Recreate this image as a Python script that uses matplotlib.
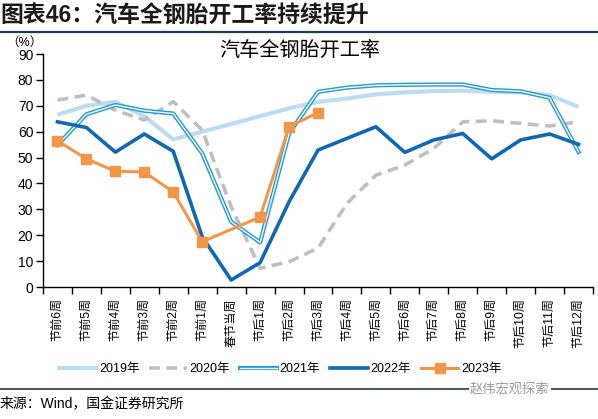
import numpy as np
import matplotlib
matplotlib.use('Agg')
import matplotlib.pyplot as plt
from matplotlib.lines import Line2D
from matplotlib.legend_handler import HandlerTuple

plt.rcParams['font.family'] = ['Liberation Sans', 'Noto Sans CJK SC', 'DejaVu Sans']

weeks = ['节前6周', '节前5周', '节前4周', '节前3周', '节前2周', '节前1周', '春节当周',
         '节后1周', '节后2周', '节后3周', '节后4周', '节后5周', '节后6周', '节后7周',
         '节后8周', '节后9周', '节后10周', '节后11周', '节后12周']

y2019 = [66.5, 70.0, 71.5, 66.0, 57.0, 60.0, 63.0, 66.0, 69.0, 71.5, 72.8, 74.4,
         75.2, 75.7, 75.8, 75.4, 75.2, 74.1, 69.6]
y2020 = [72.2, 74.1, 68.3, 64.5, 71.6, 60.6, 31.0, 7.2, 9.8, 15.0, 32.3, 43.2,
         47.1, 53.5, 63.8, 64.2, 63.2, 62.2, 63.8]
y2021 = [54.8, 66.7, 70.3, 68.1, 67.0, 51.6, 25.2, 17.2, 59.3, 75.4, 77.0, 77.9,
         78.1, 78.2, 78.2, 76.1, 75.6, 73.1, 52.2]
y2022 = [63.8, 61.6, 52.1, 59.1, 52.4, 19.4, 2.7, 9.4, 32.9, 52.9, 57.4, 61.9,
         52.0, 56.8, 59.3, 49.5, 56.8, 59.1, 55.1]
y2023 = [56.5, 49.5, 44.7, 44.4, 36.7, 17.5, np.nan, 27.0, 61.9, 67.4]

c2019 = '#BDDCF2'
c2020 = '#BFBFBF'
c2021 = '#1E9AD6'
c2022 = '#0F68B0'
c2023 = '#F4964A'

fig = plt.figure(figsize=(5.98, 4.19), dpi=100)
ax = fig.add_axes([43/598, 1 - 287/419, 550/598, 233/419])

x = np.arange(len(weeks))
ax.plot(x, y2019, color=c2019, lw=3, zorder=2, solid_capstyle='butt')
ax.plot(x, y2020, color=c2020, lw=2.6, dashes=(3, 1.8), zorder=3)
ax.plot(x, y2021, color=c2021, lw=3, zorder=4)
ax.plot(x, y2021, color='white', lw=1, zorder=4)
ax.plot(x, y2022, color=c2022, lw=2.6, zorder=5)
x23 = np.arange(len(y2023))
y23 = np.array(y2023)
m = ~np.isnan(y23)
ax.plot(x23[m], y23[m], color=c2023, lw=2.2, marker='s', ms=6.5, zorder=6)

ax.set_xlim(-0.5, len(weeks) - 0.5)
ax.set_ylim(0, 90)
ax.set_yticks(range(0, 91, 10))
ax.set_xticks(np.arange(-0.5, len(weeks), 1))
ax.set_xticklabels([])
ax.set_xticks(x, minor=True)
ax.set_xticklabels(weeks, minor=True, rotation=90, fontsize=8.7, va='top')
ax.tick_params(axis='x', which='minor', length=0, pad=8)
ax.tick_params(axis='x', which='major', length=5, direction='out', width=1)
ax.tick_params(axis='y', length=5, direction='out', width=1, labelsize=10, pad=2)
for s in ['top', 'right']:
    ax.spines[s].set_visible(False)
for s in ['left', 'bottom']:
    ax.spines[s].set_linewidth(1)

h19 = Line2D([], [], color=c2019, lw=3)
h20 = Line2D([], [], color=c2020, lw=2.6, dashes=(3, 1.8))
h21 = (Line2D([], [], color=c2021, lw=3), Line2D([], [], color='white', lw=1))
h22 = Line2D([], [], color=c2022, lw=2.6)
h23 = Line2D([], [], color=c2023, lw=2.2, marker='s', ms=6.5)
fig.legend([h19, h20, h21, h22, h23], ['2019年', '2020年', '2021年', '2022年', '2023年'],
           handler_map={tuple: HandlerTuple(ndivide=1)},
           loc='center', bbox_to_anchor=(280/598, 1 - 369/419), ncol=5, frameon=False,
           fontsize=9, handlelength=3.0, columnspacing=0.8, handletextpad=0.2)

fig.text(0.0, 1 - 16/419, '图表46：汽车全钢胎开工率持续提升', fontsize=16.5, fontweight='bold',
         color='#1A1A1A', va='center', ha='left')
fig.add_artist(Line2D([0, 1], [1 - 32/419, 1 - 32/419], color='#1F3A55', lw=1.6))
fig.text(300/598, 1 - 50/419, '汽车全钢胎开工率', fontsize=14.5, ha='center', va='center')
fig.text(6/598, 1 - 43/419, '（%）', fontsize=9, ha='left', va='center')

fig.add_artist(Line2D([0, 1], [1 - 389/419, 1 - 389/419], color='#1F3A55', lw=1.2))
fig.text(470/598, 1 - 389/419, '赵伟宏观探索', fontsize=9.5, color='#9A9A9A', ha='left',
         va='center', bbox=dict(facecolor='white', edgecolor='none', pad=1))
fig.text(0.0, 1 - 404/419, '来源：Wind，国金证券研究所', fontsize=10, ha='left', va='center')

fig.savefig('out.png', dpi=100)
